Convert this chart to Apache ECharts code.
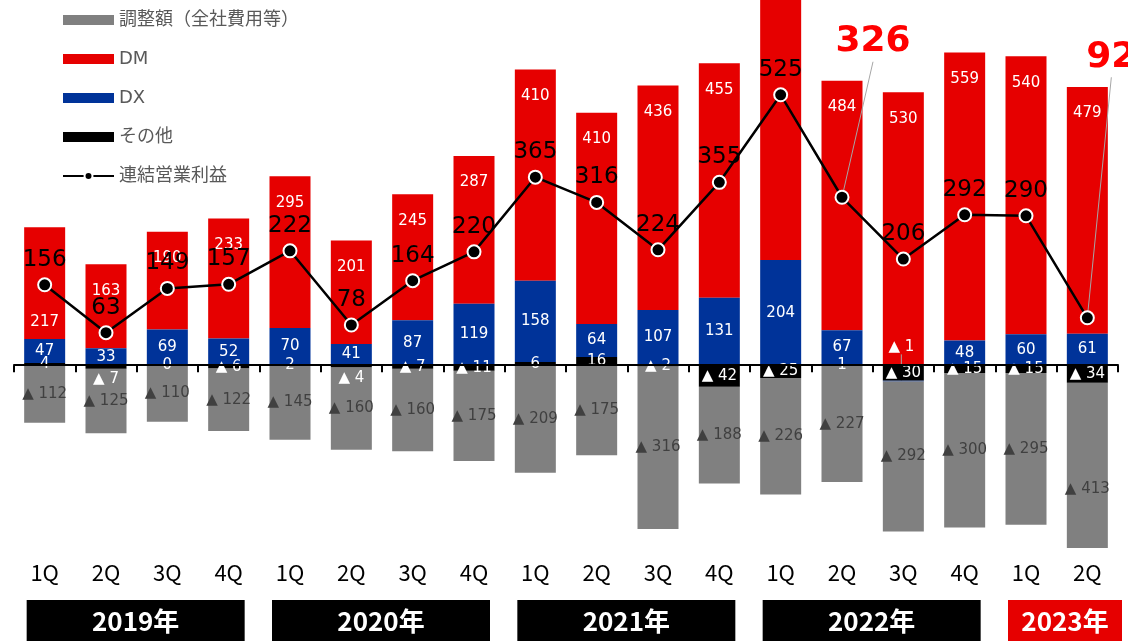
<!DOCTYPE html>
<html>
<head>
<meta charset="utf-8">
<title>連結営業利益</title>
<script src="https://cdn.jsdelivr.net/npm/echarts@6/dist/echarts.min.js"></script>
<style>
  html, body { margin: 0; padding: 0; background: #fff; }
  #container { width: 1128px; height: 641px; }
</style>
</head>
<body>
<div id="container"></div>
<script>
  // 四半期カテゴリ
  const quarters = ['1Q', '2Q', '3Q', '4Q', '1Q', '2Q', '3Q', '4Q', '1Q', '2Q', '3Q', '4Q', '1Q', '2Q', '3Q', '4Q', '1Q', '2Q']
  // 年ラベルと各年の四半期数
  const years = ['2019年', '2020年', '2021年', '2022年', '2023年']
  const yearQuarterCounts = [4, 4, 4, 4, 2]
  // セグメント利益
  const dmValues = [217, 163, 190, 233, 295, 201, 245, 287, 410, 410, 436, 455, 572, 484, 530, 559, 540, 479]
  const dxValues = [47, 33, 69, 52, 70, 41, 87, 119, 158, 64, 107, 131, 204, 67, -1, 48, 60, 61]
  const otherValues = [4, -7, 0, -6, 2, -4, -7, -11, 6, 16, -2, -42, -25, 1, -30, -15, -15, -34]
  const adjustValues = [-112, -125, -110, -122, -145, -160, -160, -175, -209, -175, -316, -188, -226, -227, -292, -300, -295, -413]
  // 連結営業利益
  const profitValues = [156, 63, 149, 157, 222, 78, 164, 220, 365, 316, 224, 355, 525, 326, 206, 292, 290, 92]

  const Y_MIN = -355
  const Y_MAX = 709
  const GRID_H = 548
  // 赤字で強調する点（前年同期と直近）
  const highlight = { 13: { dx: 31, dy: -122 }, 17: { dx: 24, dy: -227 } }

  const NUM_FONT = "'DejaVu Sans', 'Noto Sans CJK JP', sans-serif"
  const JP_FONT = "'Noto Sans CJK JP', sans-serif"
  const fmt = v => (v < 0 ? '▲ ' + Math.abs(v) : String(v))

  const chart = echarts.init(document.getElementById('container'))

  // その他: DXが薄い四半期のマイナス値は下へずらす
  const otherData = otherValues.map((v, i) => {
    const item = { value: v }
    if (v < 0 && v > -10 && dxValues[i] > 0 && dxValues[i] < 45) item.label = { offset: [0, 12] }
    return item
  })
  // DM: 上端が軸外に出る棒はラベルを出さない
  const dmData = dmValues.map((v, i) => {
    const top = Math.max(otherValues[i], 0) + Math.max(dxValues[i], 0) + v
    const item = { value: v }
    if (top > Y_MAX) item.label = { show: false }
    else if (i === 0) item.label = { position: 'insideBottom', distance: 9 }
    return item
  })
  // 調整額: 下端で切れる棒はラベルを本来の中央に寄せる
  const adjustData = adjustValues.map((v, i) => {
    const bottom = Math.min(otherValues[i], 0) + Math.min(dxValues[i], 0) + v
    const item = { value: v }
    if (bottom < Y_MIN) {
      const px = ((Y_MIN - bottom) / 2) * GRID_H / (Y_MAX - Y_MIN)
      item.label = { offset: [0, px] }
    }
    return item
  })
  const profitData = profitValues.map((v, i) => {
    const item = { value: v }
    if (highlight[i]) {
      item.label = { fontSize: 36, lineHeight: 40, fontWeight: 'bold', color: '#ff0000' }
      item.labelLine = { show: true, lineStyle: { color: '#a6a6a6', width: 1 } }
    }
    return item
  })

  const barLabel = color => ({
    show: true,
    position: 'inside',
    color: color,
    fontSize: 15,
    fontFamily: NUM_FONT,
    formatter: p => fmt(p.value)
  })

  const option = {
    animation: false,
    legend: {
      orient: 'vertical',
      left: 62,
      top: 10,
      padding: 0,
      itemWidth: 51,
      itemHeight: 10,
      itemGap: 19,
      textStyle: { color: '#595959', fontSize: 18, lineHeight: 20, fontFamily: NUM_FONT },
      data: [
        { name: '調整額（全社費用等）', icon: 'rect' },
        { name: 'DM', icon: 'rect' },
        { name: 'DX', icon: 'rect' },
        { name: 'その他', icon: 'rect' },
        { name: '連結営業利益' }
      ]
    },
    grid: { left: 14, right: 10, top: 0, bottom: 641 - GRID_H },
    xAxis: [
      {
        // ゼロ位置の軸線と目盛り
        type: 'category',
        data: quarters,
        position: 'top',
        z: 6,
        axisLine: { onZero: true, lineStyle: { color: '#000', width: 2 } },
        axisTick: { show: true, inside: true, length: 7, lineStyle: { color: '#000', width: 2 } },
        axisLabel: { show: false }
      },
      {
        // 下部の四半期ラベル
        type: 'category',
        data: quarters,
        position: 'bottom',
        axisLine: { show: false },
        axisTick: { show: false },
        axisLabel: { margin: 14, color: '#000', fontSize: 22, fontFamily: JP_FONT }
      }
    ],
    yAxis: { type: 'value', show: false, min: Y_MIN, max: Y_MAX, splitLine: { show: false } },
    series: [
      {
        name: 'その他',
        type: 'bar',
        stack: 'seg',
        z: 4,
        barWidth: 41,
        itemStyle: { color: '#000000' },
        label: barLabel('#ffffff'),
        data: otherData
      },
      {
        name: 'DX',
        type: 'bar',
        stack: 'seg',
        z: 3,
        itemStyle: { color: '#003399' },
        label: barLabel('#ffffff'),
        // マイナス値は赤棒の中へ引き出して表示
        labelLayout: p => (dxValues[p.dataIndex] < 0 ? { dx: -2, dy: -34 } : {}),
        labelLine: { show: true, lineStyle: { color: '#a6a6a6', width: 1 } },
        data: dxValues
      },
      {
        name: 'DM',
        type: 'bar',
        stack: 'seg',
        itemStyle: { color: '#e60000' },
        label: Object.assign(barLabel('#ffffff'), { position: 'insideTop', distance: 19 }),
        data: dmData
      },
      {
        name: '調整額（全社費用等）',
        type: 'bar',
        stack: 'seg',
        itemStyle: { color: '#808080' },
        label: barLabel('#404040'),
        data: adjustData
      },
      {
        name: '連結営業利益',
        type: 'line',
        z: 10,
        symbol: 'circle',
        symbolSize: 13,
        lineStyle: { color: '#000', width: 2.5 },
        itemStyle: { color: '#000', borderColor: '#fff', borderWidth: 2 },
        label: {
          show: true,
          position: 'top',
          distance: 6,
          color: '#000',
          fontSize: 23,
          fontFamily: NUM_FONT
        },
        labelLayout: p => (highlight[p.dataIndex] ? highlight[p.dataIndex] : {}),
        data: profitData
      }
    ]
  }

  option && chart.setOption(option)

  // 年の帯（カテゴリ位置から算出）
  const graphics = []
  let start = 0
  years.forEach((y, k) => {
    const n = yearQuarterCounts[k]
    const x0 = chart.convertToPixel({ xAxisIndex: 0 }, start)
    const x1 = chart.convertToPixel({ xAxisIndex: 0 }, start + n - 1)
    start += n
    const left = x0 - 18
    const right = n < 4 ? Math.min(x1 + 35, chart.getWidth() - 6) : x1 + 16
    const isLatest = k === years.length - 1
    graphics.push({
      type: 'rect',
      shape: { x: left, y: 600, width: right - left, height: 41 },
      style: { fill: isLatest ? '#e60000' : '#000' }
    })
    graphics.push({
      type: 'text',
      style: {
        x: (left + right) / 2,
        y: 621,
        text: y,
        align: 'center',
        verticalAlign: 'middle',
        fill: '#fff',
        fontSize: 26,
        fontWeight: 'bold',
        fontFamily: JP_FONT
      }
    })
  })
  chart.setOption({ graphic: graphics })
</script>
</body>
</html>
